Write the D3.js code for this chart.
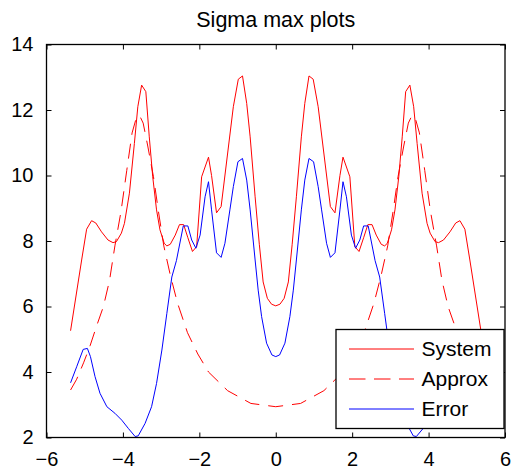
<!DOCTYPE html>
<html>
<head>
<meta charset="utf-8">
<script src="https://cdn.jsdelivr.net/npm/d3@7"></script>
<style>
  body { margin: 0; background: #fff; }
  svg { display: block; font-family: "Liberation Sans", Arial, Helvetica, sans-serif; }
</style>
</head>
<body>
<div id="chart"></div>
<script>
// series
const sysX = [-5.37, -5.08, -4.95, -4.82, -4.71, -4.56, -4.39, -4.26, -4.17, -4.04, -3.96, -3.83, -3.70, -3.61, -3.51, -3.40, -3.31, -3.22, -3.12, -3.03, -2.92, -2.85, -2.76, -2.63, -2.52, -2.41, -2.30, -2.18, -2.07, -1.94, -1.76, -1.68, -1.55, -1.43, -1.11, -0.98, -0.87, -0.76, -0.67, -0.54, -0.43, -0.33, -0.22, -0.11, 0,
  0.11, 0.22, 0.33, 0.43, 0.54, 0.67, 0.76, 0.87, 0.98, 1.11, 1.43, 1.55, 1.68, 1.76, 1.94, 2.07, 2.18, 2.30, 2.41, 2.52, 2.63, 2.76, 2.85, 2.92, 3.03, 3.12, 3.22, 3.31, 3.40, 3.51, 3.61, 3.70, 3.83, 3.96, 4.04, 4.17, 4.26, 4.39, 4.56, 4.71, 4.82, 4.95, 5.08, 5.37];
const sysY = [5.26, 7.42, 8.36, 8.62, 8.55, 8.28, 8.03, 7.95, 7.98, 8.24, 8.54, 9.46, 10.98, 12.1, 12.76, 12.56, 11.18, 9.96, 8.95, 8.34, 7.93, 7.85, 7.90, 8.18, 8.50, 8.50, 8.10, 7.68, 7.83, 9.96, 10.56, 10.0, 8.86, 9.05, 12.1, 12.94, 13.04, 12.2, 11.18, 9.35, 7.9, 6.75, 6.25, 6.07, 6.02,
  6.07, 6.25, 6.75, 7.9, 9.35, 11.18, 12.2, 13.04, 12.94, 12.1, 9.05, 8.86, 10.0, 10.56, 9.96, 7.83, 7.68, 8.10, 8.50, 8.50, 8.18, 7.90, 7.85, 7.93, 8.34, 8.95, 9.96, 11.18, 12.56, 12.76, 12.1, 10.98, 9.46, 8.54, 8.24, 7.98, 7.95, 8.03, 8.28, 8.55, 8.62, 8.36, 7.42, 5.26];

const approxX = [-5.37, -5.21, -5.03, -4.86, -4.69, -4.51, -4.35, -4.21, -4.05, -3.90, -3.76, -3.64, -3.56, -3.47, -3.35, -3.20, -3.07, -2.93, -2.76, -2.57, -2.31, -2.04, -1.76, -1.26, -0.65, 0,
  0.65, 1.26, 1.76, 2.04, 2.31, 2.57, 2.76, 2.93, 3.07, 3.20, 3.35, 3.47, 3.56, 3.64, 3.76, 3.90, 4.05, 4.21, 4.35, 4.51, 4.69, 4.86, 5.03, 5.21, 5.37];
const approxY = [3.45, 3.78, 4.28, 4.8, 5.4, 6.0, 6.8, 7.85, 8.9, 10.15, 11.3, 11.8, 11.82, 11.6, 10.9, 9.96, 8.9, 7.85, 6.96, 6.1, 5.2, 4.55, 4.0, 3.43, 3.04, 2.94,
  3.04, 3.43, 4.0, 4.55, 5.2, 6.1, 6.96, 7.85, 8.9, 9.96, 10.9, 11.6, 11.82, 11.8, 11.3, 10.15, 8.9, 7.85, 6.8, 6.0, 5.4, 4.8, 4.28, 3.78, 3.45];

const errX = [-5.37, -5.21, -5.04, -4.93, -4.85, -4.73, -4.60, -4.42, -4.21, -4.03, -3.86, -3.68, -3.60, -3.42, -3.25, -3.12, -2.98, -2.85, -2.72, -2.60, -2.42, -2.30, -2.20, -2.09, -1.98, -1.85, -1.76, -1.68, -1.55, -1.43, -1.33, -1.20, -1.11, -0.99, -0.87, -0.76, -0.67, -0.54, -0.46, -0.37, -0.24, -0.10, 0,
  0.10, 0.24, 0.37, 0.46, 0.54, 0.67, 0.76, 0.87, 0.99, 1.11, 1.20, 1.33, 1.43, 1.55, 1.68, 1.76, 1.85, 1.98, 2.09, 2.20, 2.30, 2.42, 2.60, 2.72, 2.85, 2.98, 3.12, 3.25, 3.42, 3.60, 3.68, 3.86, 4.03, 4.21, 4.42, 4.60, 4.73, 4.85, 4.93, 5.04, 5.21, 5.37];
const errY = [3.67, 4.16, 4.69, 4.72, 4.47, 3.86, 3.35, 2.94, 2.74, 2.53, 2.28, 2.03, 2.05, 2.43, 2.94, 3.65, 4.67, 5.79, 6.9, 7.4, 8.46, 8.46, 8.03, 7.78, 8.18, 9.35, 9.81, 8.95, 7.64, 7.50, 7.93, 8.95, 9.66, 10.42, 10.52, 9.86, 8.95, 7.42, 6.5, 5.69, 4.88, 4.52, 4.47,
  4.52, 4.88, 5.69, 6.5, 7.42, 8.95, 9.86, 10.52, 10.42, 9.66, 8.95, 7.93, 7.50, 7.64, 8.95, 9.81, 9.35, 8.18, 7.78, 8.03, 8.46, 8.46, 7.4, 6.9, 5.79, 4.67, 3.65, 2.94, 2.43, 2.05, 2.03, 2.28, 2.53, 2.74, 2.94, 3.35, 3.86, 4.47, 4.72, 4.69, 4.16, 3.67];

const xTicks = [-6, -4, -2, 0, 2, 4, 6];
const yTicks = [2, 4, 6, 8, 10, 12, 14];
const legendLabels = ["System", "Approx", "Error"];

const width = 516, height = 474;
const margin = {top: 44.5, right: 11, bottom: 36.5, left: 46.5};

const x = d3.scaleLinear().domain([-6, 6]).range([margin.left, width - margin.right]);
const y = d3.scaleLinear().domain([2, 14]).range([height - margin.bottom, margin.top]);

const svg = d3.select("#chart").append("svg")
  .attr("width", width)
  .attr("height", height);

svg.append("text")
  .attr("x", (x(-6) + x(6)) / 2)
  .attr("y", 27)
  .attr("text-anchor", "middle")
  .attr("font-size", 21.5)
  .text("Sigma max plots");

svg.append("clipPath").attr("id", "clip")
  .append("rect")
  .attr("x", x(-6)).attr("y", y(14))
  .attr("width", x(6) - x(-6)).attr("height", y(2) - y(14));

const line = d3.line().x(d => x(d[0])).y(d => y(d[1]));
const plot = svg.append("g").attr("clip-path", "url(#clip)");

const series = [
  {xs: sysX, ys: sysY, color: "#ff0000", dash: null},
  {xs: approxX, ys: approxY, color: "#ff0000", dash: "15,9"},
  {xs: errX, ys: errY, color: "#0000ff", dash: null}
];

series.forEach(s => {
  plot.append("path")
    .datum(d3.zip(s.xs, s.ys))
    .attr("fill", "none")
    .attr("stroke", s.color)
    .attr("stroke-width", 1)
    .attr("stroke-dasharray", s.dash)
    .attr("d", line);
});

// axes (ticks inward, box)
const fmt = d3.format("");
svg.append("g")
  .attr("transform", `translate(0,${y(2)})`)
  .call(d3.axisBottom(x).tickValues(xTicks).tickSizeInner(-5).tickSizeOuter(0).tickPadding(14).tickFormat(fmt))
  .call(g => g.select(".domain").remove())
  .call(g => g.selectAll("text").attr("font-size", 20).attr("fill", "#000").attr("font-family", null));
svg.append("g")
  .attr("transform", `translate(0,${y(14)})`)
  .call(d3.axisTop(x).tickValues(xTicks).tickSizeInner(-5).tickSizeOuter(0).tickFormat(""))
  .call(g => g.select(".domain").remove());
svg.append("g")
  .attr("transform", `translate(${x(-6)},0)`)
  .call(d3.axisLeft(y).tickValues(yTicks).tickSizeInner(-5).tickSizeOuter(0).tickPadding(13).tickFormat(fmt))
  .call(g => g.select(".domain").remove())
  .call(g => g.selectAll("text").attr("font-size", 20).attr("fill", "#000").attr("font-family", null));
svg.append("g")
  .attr("transform", `translate(${x(6)},0)`)
  .call(d3.axisRight(y).tickValues(yTicks).tickSizeInner(-5).tickSizeOuter(0).tickFormat(""))
  .call(g => g.select(".domain").remove());

svg.append("rect")
  .attr("x", x(-6)).attr("y", y(14))
  .attr("width", x(6) - x(-6)).attr("height", y(2) - y(14))
  .attr("fill", "none").attr("stroke", "#000").attr("stroke-width", 1.3);

// legend
const lg = svg.append("g").attr("transform", "translate(336,329.5)");
lg.append("rect")
  .attr("width", 168).attr("height", 99)
  .attr("fill", "#fff").attr("stroke", "#000").attr("stroke-width", 1.3);
legendLabels.forEach((name, i) => {
  const s = series[i];
  const yy = 19.5 + i * 30;
  lg.append("line")
    .attr("x1", 13).attr("x2", 78).attr("y1", yy).attr("y2", yy)
    .attr("stroke", s.color).attr("stroke-width", 1)
    .attr("stroke-dasharray", s.dash ? "16.5,8.5" : null);
  lg.append("text")
    .attr("x", 85.5).attr("y", yy).attr("dy", "0.35em")
    .attr("font-size", 21)
    .text(name);
});
</script>
</body>
</html>
